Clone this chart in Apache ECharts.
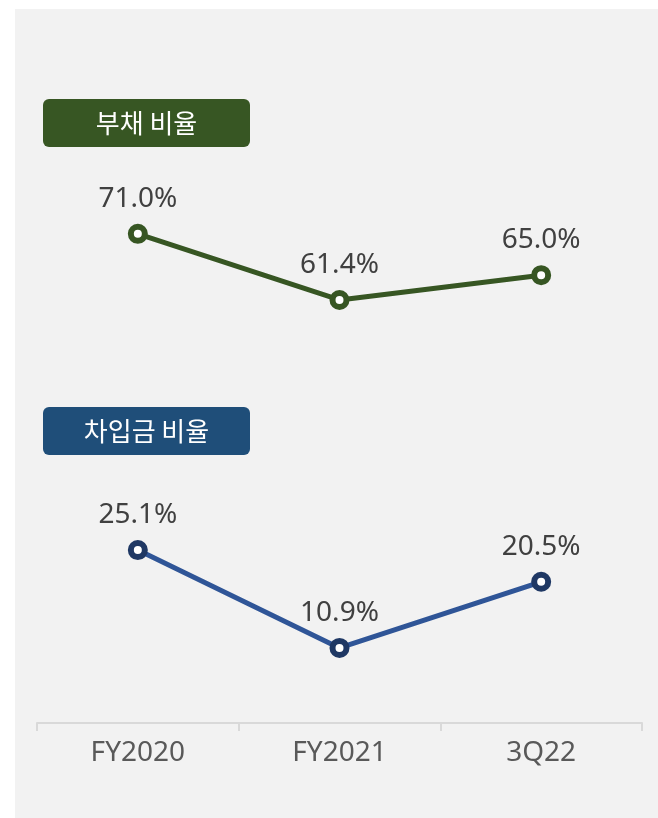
<html>
    <head>
        <meta charset="utf-8">
        <script src="https://cdn.jsdelivr.net/npm/echarts@6/dist/echarts.min.js"></script>
    </head>
    <body style="margin:0;background:#fff;">
        <div id="bg" style="position:absolute;left:15px;top:9px;width:643px;height:809px;background:#f2f2f2;"></div>
        <div id="main" style="position:absolute;left:0;top:0;width:658px;height:818px;"></div>
        <script>

        var categories = ['FY2020', 'FY2021', '3Q22'];
        var debtRatio = [71.0, 61.4, 65.0];
        var borrowingRatio = [25.1, 10.9, 20.5];
        var badgeTitles = ['부채 비율', '차입금 비율'];

        var myChart = echarts.init(document.getElementById('main'));

        var labelStyle = {
            show: true,
            position: 'top',
            distance: 11,
            fontFamily: 'Noto Sans',
            fontSize: 28,
            color: '#404040',
            formatter: function (p) {
                return p.value.toFixed(1) + '%';
            }
        };

        function badge(y, color, text) {
            return {
                type: 'group',
                left: 43,
                top: y,
                children: [
                    {
                        type: 'rect',
                        shape: { x: 0, y: 0, width: 207, height: 48, r: 6 },
                        style: { fill: color }
                    },
                    {
                        type: 'text',
                        x: 103.5,
                        y: 24,
                        style: {
                            text: text,
                            fill: '#fff',
                            font: '26px "Noto Sans CJK KR"',
                            textAlign: 'center',
                            textVerticalAlign: 'middle'
                        }
                    }
                ]
            };
        }

        option = {
            backgroundColor: 'transparent',
            animation: false,
            grid: {
                left: 37,
                right: 16,
                top: 34,
                bottom: 95
            },
            graphic: [
                badge(99, '#375623', badgeTitles[0]),
                badge(407, '#1f4e79', badgeTitles[1])
            ],
            xAxis: {
                type: 'category',
                data: categories,
                boundaryGap: true,
                axisLine: {
                    lineStyle: { color: '#d9d9d9', width: 2 }
                },
                axisTick: {
                    show: true,
                    length: 8,
                    lineStyle: { color: '#d9d9d9', width: 2 }
                },
                axisLabel: {
                    margin: 16,
                    fontFamily: 'Noto Sans',
                    fontSize: 28,
                    color: '#595959'
                }
            },
            yAxis: {
                type: 'value',
                min: 0,
                max: 100,
                show: false
            },
            series: [
                {
                    name: '부채 비율',
                    type: 'line',
                    data: debtRatio,
                    symbol: 'circle',
                    symbolSize: 14,
                    lineStyle: { color: '#375623', width: 5 },
                    itemStyle: { color: '#fff', borderColor: '#375623', borderWidth: 6 },
                    label: labelStyle
                },
                {
                    name: '차입금 비율',
                    type: 'line',
                    data: borrowingRatio,
                    symbol: 'circle',
                    symbolSize: 14,
                    lineStyle: { color: '#2f5597', width: 5 },
                    itemStyle: { color: '#fff', borderColor: '#1f3864', borderWidth: 6 },
                    label: labelStyle
                }
            ]
        };

        myChart.setOption(option);

        </script>
    </body>
</html>
